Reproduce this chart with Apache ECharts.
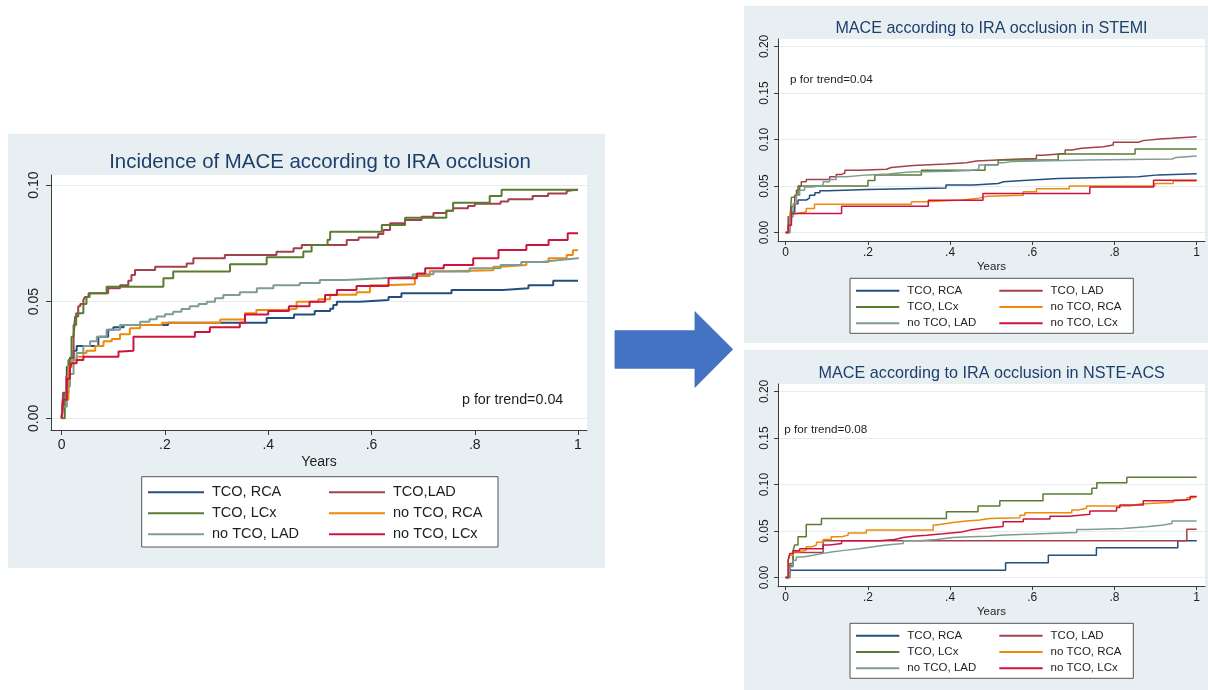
<!DOCTYPE html>
<html><head><meta charset="utf-8">
<script src="https://cdn.jsdelivr.net/npm/echarts@6/dist/echarts.min.js"></script>
<style>html,body{margin:0;padding:0;background:#fff}#c{width:1208px;height:690px}</style>
</head><body><div id="c"></div>
<script>
// ---------- names, ticks ----------
const subSeriesNames = ['TCO, RCA','TCO, LAD','TCO, LCx','no TCO, RCA','no TCO, LAD','no TCO, LCx'];
const mainSeriesNames = ['TCO, RCA','TCO,LAD','TCO, LCx','no TCO, RCA','no TCO, LAD','no TCO, LCx'];
const seriesColors = ['#234f7f','#a3414a','#5a7b30','#ee8a0a','#7f9c92','#cf1340'];
const xTickValues = [0,0.2,0.4,0.6,0.8,1];
const xTickLabels = ['0','.2','.4','.6','.8','1'];
const yTickValuesMain = [0,0.05,0.1];
const yTickValuesSub = [0,0.05,0.1,0.15,0.2];
const titles = ['Incidence of MACE according to IRA occlusion','MACE according to IRA occlusion in STEMI','MACE according to IRA occlusion in NSTE-ACS'];
const pTexts = ['p for trend=0.04','p for trend=0.04','p for trend=0.08'];
const xAxisName = 'Years';

// ---------- overall (left) chart: [years, cumulative incidence] ----------
const allTcoRca = [[0,0],[0.003,0.011],[0.01,0.022],[0.016,0.026],[0.023,0.029],[0.029,0.031],[0.071,0.035],[0.09,0.038],[0.1,0.039],[0.12,0.04],[0.206,0.041],[0.397,0.043],[0.45,0.0445],[0.49,0.046],[0.52,0.047],[0.526,0.0486],[0.533,0.05],[0.577,0.0507],[0.633,0.052],[0.658,0.0536],[0.755,0.055],[0.855,0.0557],[0.904,0.057],[0.952,0.059],[1,0.059]];
const allTcoLad = [[0,0],[0.003,0.0107],[0.009,0.018],[0.016,0.025],[0.023,0.035],[0.026,0.0436],[0.032,0.048],[0.036,0.049],[0.042,0.0507],[0.045,0.052],[0.052,0.0536],[0.09,0.0557],[0.113,0.057],[0.129,0.059],[0.135,0.0614],[0.142,0.0636],[0.181,0.065],[0.242,0.0664],[0.255,0.0686],[0.316,0.07],[0.416,0.0714],[0.449,0.0729],[0.465,0.0743],[0.552,0.0764],[0.575,0.0775],[0.613,0.079],[0.623,0.0807],[0.636,0.0836],[0.665,0.085],[0.697,0.0864],[0.72,0.088],[0.745,0.089],[0.758,0.09],[0.787,0.091],[0.8,0.092],[0.85,0.0929],[0.865,0.0939],[0.912,0.0953],[0.942,0.0964],[0.978,0.0976],[0.984,0.098],[1,0.098]];
const allTcoLcx = [[0,0],[0.006,0.0107],[0.013,0.025],[0.019,0.035],[0.023,0.04],[0.028,0.045],[0.042,0.049],[0.048,0.052],[0.054,0.0536],[0.087,0.0564],[0.197,0.06],[0.216,0.0629],[0.326,0.066],[0.397,0.069],[0.468,0.0715],[0.484,0.0743],[0.515,0.0765],[0.52,0.08],[0.62,0.0829],[0.665,0.086],[0.745,0.089],[0.758,0.0924],[0.829,0.0953],[0.852,0.098],[1,0.098]];
const allNoTcoRca = [[0,0],[0.003,0.008],[0.013,0.022],[0.019,0.025],[0.029,0.0264],[0.042,0.028],[0.048,0.029],[0.065,0.031],[0.081,0.033],[0.097,0.034],[0.113,0.036],[0.132,0.0386],[0.152,0.04],[0.194,0.041],[0.307,0.0424],[0.355,0.045],[0.377,0.0464],[0.43,0.047],[0.455,0.05],[0.497,0.051],[0.52,0.053],[0.571,0.054],[0.597,0.057],[0.625,0.0575],[0.684,0.061],[0.713,0.063],[0.745,0.0635],[0.836,0.065],[0.85,0.0657],[0.9,0.067],[0.943,0.0686],[0.978,0.07],[0.99,0.072],[1,0.072]];
const allNoTcoLad = [[0,0],[0.003,0.005],[0.01,0.0136],[0.016,0.019],[0.023,0.025],[0.029,0.028],[0.042,0.031],[0.055,0.033],[0.068,0.035],[0.087,0.038],[0.113,0.04],[0.152,0.0414],[0.17,0.0425],[0.184,0.0436],[0.2,0.0446],[0.216,0.0457],[0.232,0.0468],[0.248,0.048],[0.265,0.049],[0.281,0.05],[0.297,0.0515],[0.313,0.0529],[0.345,0.054],[0.378,0.0557],[0.41,0.057],[0.461,0.058],[0.5,0.0593],[0.55,0.06],[0.62,0.0607],[0.68,0.0618],[0.72,0.0629],[0.79,0.0643],[0.85,0.0657],[0.89,0.067],[0.93,0.0678],[0.96,0.0686],[1,0.069]];
const allNoTcoLcx = [[0,0],[0.003,0.008],[0.01,0.017],[0.016,0.0214],[0.019,0.0236],[0.029,0.025],[0.042,0.0264],[0.11,0.0286],[0.116,0.029],[0.139,0.035],[0.258,0.037],[0.287,0.039],[0.345,0.041],[0.355,0.0445],[0.4,0.046],[0.44,0.048],[0.48,0.05],[0.51,0.0529],[0.533,0.055],[0.571,0.0567],[0.633,0.06],[0.688,0.0621],[0.704,0.0643],[0.74,0.0657],[0.797,0.0686],[0.846,0.0721],[0.9,0.0743],[0.943,0.0764],[0.98,0.0793],[1,0.0793]];

// ---------- STEMI chart ----------
const stemiTcoRca = [[0,0],[0.008,0.013],[0.014,0.022],[0.022,0.031],[0.03,0.035],[0.05,0.037],[0.058,0.04],[0.071,0.0427],[0.083,0.0449],[0.103,0.0463],[0.2,0.048],[0.39,0.051],[0.456,0.0528],[0.517,0.0546],[0.53,0.056],[0.578,0.058],[0.663,0.06],[0.858,0.062],[0.906,0.0632],[1,0.0632]];
const stemiTcoLad = [[0,0],[0.006,0.017],[0.014,0.028],[0.022,0.04],[0.03,0.05],[0.038,0.0546],[0.05,0.057],[0.107,0.06],[0.123,0.0625],[0.136,0.064],[0.144,0.067],[0.18,0.068],[0.245,0.07],[0.257,0.072],[0.31,0.0736],[0.39,0.075],[0.44,0.077],[0.464,0.0787],[0.554,0.0797],[0.61,0.083],[0.627,0.085],[0.68,0.0887],[0.696,0.0905],[0.72,0.0923],[0.773,0.094],[0.797,0.097],[0.858,0.0988],[0.87,0.1006],[0.91,0.1013],[0.94,0.103],[1,0.103]];
const stemiTcoLcx = [[0,0],[0.01,0.013],[0.014,0.038],[0.026,0.0456],[0.034,0.05],[0.2,0.056],[0.217,0.062],[0.33,0.067],[0.485,0.0729],[0.517,0.078],[0.663,0.0844],[0.85,0.0898],[1,0.0898]];
const stemiNoTcoRca = [[0,0],[0.01,0.02],[0.018,0.022],[0.05,0.026],[0.07,0.0305],[0.306,0.033],[0.34,0.035],[0.43,0.037],[0.47,0.039],[0.49,0.0402],[0.578,0.0438],[0.61,0.047],[0.69,0.05],[0.898,0.0528],[0.943,0.0553],[1,0.0553]];
const stemiNoTcoLad = [[0,0],[0.01,0.0169],[0.018,0.031],[0.026,0.04],[0.034,0.0456],[0.046,0.049],[0.067,0.051],[0.091,0.0546],[0.107,0.057],[0.123,0.06],[0.148,0.062],[0.2,0.063],[0.25,0.065],[0.3,0.066],[0.4,0.0668],[0.45,0.068],[0.47,0.0726],[0.517,0.075],[0.53,0.0765],[0.554,0.078],[0.732,0.079],[0.94,0.0808],[0.95,0.0822],[1,0.0822]];
const stemiNoTcoLcx = [[0,0],[0.006,0.008],[0.014,0.0205],[0.136,0.0284],[0.347,0.0348],[0.48,0.042],[0.74,0.049],[0.895,0.0562],[1,0.0562]];

// ---------- NSTE-ACS chart ----------
const nsteTcoRca = [[0,0],[0.008,0.0079],[0.535,0.0158],[0.639,0.024],[0.756,0.032],[0.954,0.0395],[1,0.0395]];
const nsteTcoLad = [[0,0],[0.01,0.013],[0.018,0.027],[0.091,0.0395],[0.976,0.052],[1,0.052]];
const nsteTcoLcx = [[0,0],[0.01,0.015],[0.018,0.029],[0.022,0.035],[0.03,0.044],[0.05,0.057],[0.087,0.0636],[0.391,0.0708],[0.468,0.077],[0.521,0.0826],[0.626,0.0898],[0.745,0.096],[0.757,0.102],[0.83,0.1078],[1,0.1078]];
const nsteNoTcoRca = [[0,0],[0.006,0.0187],[0.01,0.024],[0.018,0.0277],[0.034,0.0295],[0.05,0.033],[0.063,0.035],[0.075,0.038],[0.091,0.041],[0.111,0.0438],[0.136,0.0456],[0.152,0.048],[0.196,0.051],[0.359,0.0564],[0.367,0.058],[0.391,0.0593],[0.407,0.0607],[0.44,0.0618],[0.472,0.0636],[0.497,0.0643],[0.57,0.067],[0.582,0.0697],[0.696,0.0726],[0.712,0.0744],[0.732,0.077],[0.838,0.079],[0.862,0.081],[0.943,0.0833],[0.976,0.0858],[0.99,0.0868],[1,0.0868]];
const nsteNoTcoLad = [[0,0],[0.01,0.0115],[0.018,0.0187],[0.026,0.022],[0.042,0.024],[0.067,0.026],[0.091,0.0277],[0.115,0.0295],[0.148,0.031],[0.18,0.033],[0.213,0.035],[0.245,0.0366],[0.286,0.0395],[0.326,0.041],[0.367,0.043],[0.407,0.044],[0.448,0.0445],[0.497,0.0456],[0.521,0.0467],[0.602,0.0485],[0.708,0.0517],[0.732,0.0528],[0.821,0.0546],[0.878,0.0564],[0.919,0.058],[0.94,0.0607],[1,0.0607]];
const nsteNoTcoLcx = [[0,0],[0.006,0.0187],[0.01,0.0259],[0.018,0.0287],[0.034,0.031],[0.091,0.035],[0.107,0.0366],[0.136,0.0395],[0.229,0.041],[0.265,0.043],[0.286,0.0445],[0.31,0.0456],[0.343,0.047],[0.383,0.049],[0.428,0.051],[0.448,0.053],[0.48,0.055],[0.529,0.06],[0.578,0.0629],[0.643,0.066],[0.69,0.068],[0.74,0.0715],[0.805,0.0754],[0.813,0.078],[0.87,0.0826],[0.943,0.084],[0.984,0.087],[1,0.0876]];

const chartData = [
  [allTcoRca, allTcoLad, allTcoLcx, allNoTcoRca, allNoTcoLad, allNoTcoLcx],
  [stemiTcoRca, stemiTcoLad, stemiTcoLcx, stemiNoTcoRca, stemiNoTcoLad, stemiNoTcoLcx],
  [nsteTcoRca, nsteTcoLad, nsteTcoLcx, nsteNoTcoRca, nsteNoTcoLad, nsteNoTcoLcx]
];

// ---------- layout ----------
const FONT = '"Liberation Sans", Arial, Helvetica, sans-serif';
const TXT = '#1e1e1e';
const TITLE_C = '#1d3f6c';
const AXIS_C = '#3c3c3c';
const GRID_C = '#e4ecf0';
const BG = '#e8eff3';

const panels = [
  {grid:{left:51, top:175, width:536, height:255}, xMin:-0.0207, xMax:1.0174, yMin:-0.00502, yMax:0.1043,
   yTicks:yTickValuesMain, tickFont:14, nameFont:14, lblMarginX:8, lblMarginY:10, nameGap:25, tickLen:5, lw:2,
   names:mainSeriesNames},
  {grid:{left:778, top:39, width:427, height:202}, xMin:-0.0187, xMax:1.0202, yMin:-0.00905, yMax:0.208,
   yTicks:yTickValuesSub, tickFont:12, nameFont:11.5, lblMarginX:6, lblMarginY:7, nameGap:19.5, tickLen:4, lw:1.5,
   names:subSeriesNames},
  {grid:{left:778, top:384, width:427, height:202}, xMin:-0.0187, xMax:1.0202, yMin:-0.00905, yMax:0.208,
   yTicks:yTickValuesSub, tickFont:12, nameFont:11.5, lblMarginX:6, lblMarginY:7, nameGap:19.5, tickLen:4, lw:1.5,
   names:subSeriesNames}
];

const grids = [], xAxes = [], yAxes = [], series = [];
panels.forEach((p, i) => {
  grids.push(Object.assign({show:false, containLabel:false, outerBoundsMode:'none'}, p.grid));
  xAxes.push({
    type:'value', gridIndex:i, min:p.xMin, max:p.xMax,
    name:xAxisName, nameLocation:'middle', nameGap:p.nameGap,
    nameTextStyle:{fontFamily:FONT, fontSize:p.nameFont, color:TXT},
    axisLine:{show:true, onZero:false, lineStyle:{color:AXIS_C, width:1}},
    axisTick:{show:true, inside:false, length:p.tickLen, customValues:xTickValues, lineStyle:{color:AXIS_C}},
    axisLabel:{show:true, customValues:xTickValues, margin:p.lblMarginX, fontFamily:FONT, fontSize:p.tickFont, color:TXT,
      formatter:v => xTickLabels[xTickValues.findIndex(t => Math.abs(t - v) < 1e-9)] ?? ''},
    splitLine:{show:false}
  });
  yAxes.push({
    type:'value', gridIndex:i, min:p.yMin, max:p.yMax,
    axisLine:{show:true, onZero:false, lineStyle:{color:AXIS_C, width:1}},
    axisTick:{show:true, inside:false, length:p.tickLen, customValues:p.yTicks, lineStyle:{color:AXIS_C}},
    axisLabel:{show:true, customValues:p.yTicks, rotate:90, margin:p.lblMarginY, fontFamily:FONT, fontSize:p.tickFont, color:TXT,
      formatter:v => v.toFixed(2)},
    splitLine:{show:true, lineStyle:{color:GRID_C, width:1}}
  });
  chartData[i].forEach((d, k) => {
    series.push({
      type:'line', name:p.names[k], xAxisIndex:i, yAxisIndex:i, data:d, step:'end',
      symbol:'none', showSymbol:false, color:seriesColors[k],
      lineStyle:{color:seriesColors[k], width:p.lw}, emphasis:{disabled:true}, animation:false, z:2+k*0.01
    });
  });
});

// legends (two columns per chart)
const legendCfg = [
  {cols:[148, 329], top:481.8, iw:56, fs:14.5, lh:21, names:mainSeriesNames},
  {cols:[856, 999.3], top:282.5, iw:43.3, fs:11.5, lh:16.3, names:subSeriesNames},
  {cols:[856, 999.3], top:627.5, iw:43.3, fs:11.5, lh:16.3, names:subSeriesNames}
];
const legends = [];
legendCfg.forEach(L => {
  [[0,2,4],[1,3,5]].forEach((idx, c) => {
    legends.push({
      show:true, orient:'vertical', left:L.cols[c], top:L.top, padding:0, itemGap:0,
      itemWidth:L.iw, itemHeight:2, icon:'rect', selectedMode:false,
      data:idx.map(j => L.names[j]),
      textStyle:{fontFamily:FONT, fontSize:L.fs, lineHeight:L.lh, color:TXT, padding:[0,0,0,3]}
    });
  });
});

// decorations
const graphics = [
  {type:'rect', z:-10, shape:{x:8, y:134, width:597, height:434}, style:{fill:BG}},
  {type:'rect', z:-10, shape:{x:744, y:6, width:464, height:337}, style:{fill:BG}},
  {type:'rect', z:-10, shape:{x:744, y:350, width:464, height:340}, style:{fill:BG}},
  {type:'rect', z:-9, shape:{x:51, y:175, width:536, height:255}, style:{fill:'#ffffff'}},
  {type:'rect', z:-9, shape:{x:778, y:39, width:427, height:202}, style:{fill:'#ffffff'}},
  {type:'rect', z:-9, shape:{x:778, y:384, width:427, height:202}, style:{fill:'#ffffff'}},
  {type:'rect', z:1, shape:{x:141.7, y:476.7, width:356.3, height:70.3}, style:{fill:'#ffffff', stroke:'#555', lineWidth:1}},
  {type:'rect', z:1, shape:{x:850, y:278.3, width:283.3, height:55}, style:{fill:'#ffffff', stroke:'#555', lineWidth:1}},
  {type:'rect', z:1, shape:{x:850, y:623.3, width:283.3, height:55}, style:{fill:'#ffffff', stroke:'#555', lineWidth:1}},
  {type:'polygon', z:-10, shape:{points:[[615,330.7],[695,330.7],[695,311.7],[732.7,349.3],[695,387.3],[695,368.3],[615,368.3]]},
    style:{fill:'#4472c4', stroke:'#3f69b5', lineWidth:0.8}},
  {type:'text', z:5, style:{text:titles[0], x:320, y:162, align:'center', verticalAlign:'middle', font:'20.4px ' + FONT, fill:TITLE_C}},
  {type:'text', z:5, style:{text:titles[1], x:991.5, y:28.3, align:'center', verticalAlign:'middle', font:'16.1px ' + FONT, fill:TITLE_C}},
  {type:'text', z:5, style:{text:titles[2], x:991.7, y:373.3, align:'center', verticalAlign:'middle', font:'16.2px ' + FONT, fill:TITLE_C}},
  {type:'text', z:5, style:{text:pTexts[0], x:563.3, y:400, align:'right', verticalAlign:'middle', font:'14.3px ' + FONT, fill:TXT}},
  {type:'text', z:5, style:{text:pTexts[1], x:790, y:80, align:'left', verticalAlign:'middle', font:'11.7px ' + FONT, fill:TXT}},
  {type:'text', z:5, style:{text:pTexts[2], x:784.3, y:430, align:'left', verticalAlign:'middle', font:'11.7px ' + FONT, fill:TXT}}
];

const chart = echarts.init(document.getElementById('c'), null, {renderer:'canvas'});
chart.setOption({
  animation:false,
  backgroundColor:'#ffffff',
  textStyle:{fontFamily:FONT},
  grid:grids, xAxis:xAxes, yAxis:yAxes, legend:legends, series:series, graphic:graphics,
  tooltip:{show:false}
});
</script></body></html>
